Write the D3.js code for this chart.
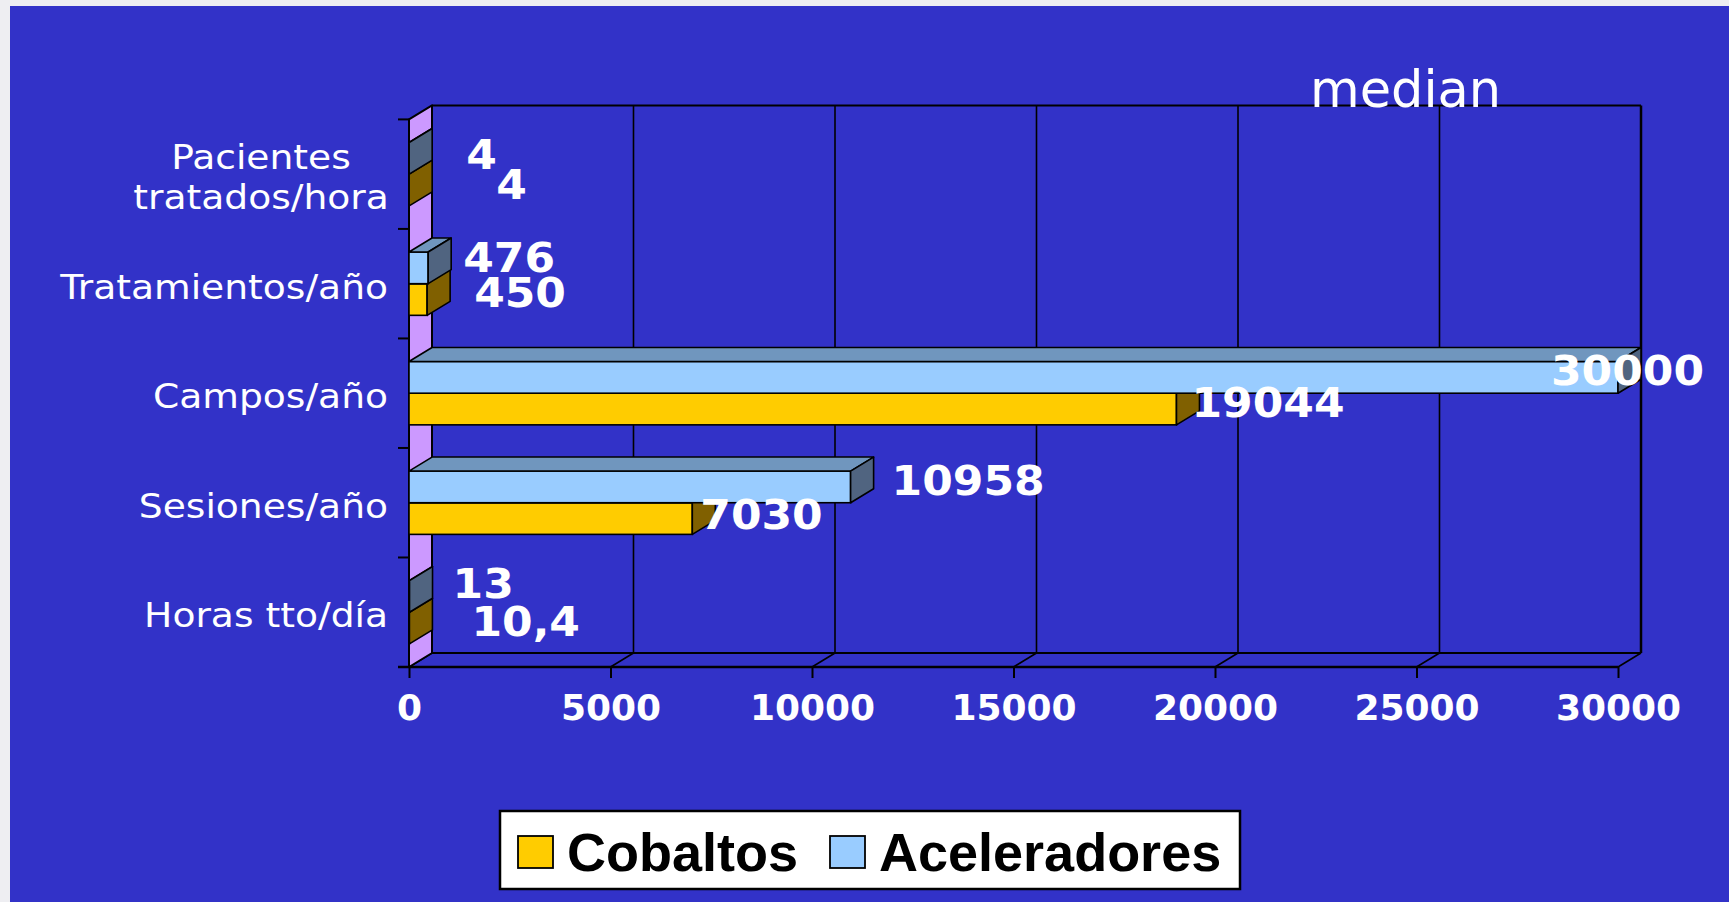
<!DOCTYPE html>
<html>
<head>
<meta charset="utf-8">
<script src="https://cdn.jsdelivr.net/npm/d3@7"></script>
<style>
  html, body { margin: 0; padding: 0; background: #eeeef2; overflow: hidden; }
  svg { display: block; }
</style>
</head>
<body>
<svg id="chart" width="1729" height="902"></svg>
<script>
// ---------------- DATA ----------------
const categories = ["Horas tto/día", "Sesiones/año", "Campos/año", "Tratamientos/año", "Pacientes tratados/hora"];
const seriesNames = ["Cobaltos", "Aceleradores"];
const cobaltos = [10.4, 7030, 19044, 450, 4];
const aceleradores = [13, 10958, 30000, 476, 4];
const xTickValues = [0, 5000, 10000, 15000, 20000, 25000, 30000];
const annotation = "median";

// ---------------- LAYOUT / STYLE ----------------
const W = 1729, H = 902;
const X0 = 409, X1 = 1618, YT = 119.4, YB = 667;
const DX = 23, DY = -14;
const blue = "#3232C8";
const colors = {
  Cobaltos: { front: "#FFCC00", top: "#C09A00", side: "#806000" },
  Aceleradores: { front: "#99CCFF", top: "#7096BE", side: "#506480" }
};
// manual label nudges (px), per category in the order of `categories`
const labelNudgeX = { Cobaltos: [24, -30, -23, 9, 49], Aceleradores: [5, 3, -105, -3, 19] };
const labelNudgeY = { Cobaltos: [0, 2, 0, -1, 1], Aceleradores: [-6.5, 0, 0, -3.5, 2.5] };

const svg = d3.select("#chart");
const fmt = d3.formatLocale({ decimal: ",", thousands: "", grouping: [3], currency: ["", ""] }).format("~g");

// background
svg.append("rect").attr("x", 10).attr("y", 6).attr("width", W - 10).attr("height", H - 6).attr("fill", blue);

const x = d3.scaleLinear().domain([0, 30000]).range([X0, X1]);
const y = d3.scaleBand().domain(categories.slice().reverse()).range([YT, YB]).paddingInner(0).paddingOuter(0);
const sub = d3.scaleBand().domain(["Aceleradores", "Cobaltos"]).range([0, y.bandwidth()]).paddingInner(0).paddingOuter(0.73);

const g = svg.append("g");
const stroke = "#000";

// back wall gridlines
const backTop = YT + DY, backBot = YB + DY;
g.append("line").attr("x1", X0 + DX).attr("x2", X1 + DX).attr("y1", backTop).attr("y2", backTop)
  .attr("stroke", stroke).attr("stroke-width", 2);
g.append("line").attr("x1", X0 + DX).attr("x2", X1 + DX).attr("y1", backBot).attr("y2", backBot)
  .attr("stroke", stroke).attr("stroke-width", 2);
g.selectAll(".vgrid").data(xTickValues.slice(1)).join("line")
  .attr("x1", d => x(d) + DX).attr("x2", d => x(d) + DX)
  .attr("y1", backTop).attr("y2", backBot)
  .attr("stroke", stroke).attr("stroke-width", d => d === 30000 ? 2.5 : 1.6);
// floor diagonals
g.selectAll(".fdiag").data(xTickValues).join("line")
  .attr("x1", d => x(d)).attr("x2", d => x(d) + DX)
  .attr("y1", YB).attr("y2", backBot)
  .attr("stroke", stroke).attr("stroke-width", 1.6);

// left wall (purple)
g.append("polygon")
  .attr("points", [[X0, YT], [X0 + DX, backTop], [X0 + DX, backBot], [X0, YB]].map(p => p.join(",")).join(" "))
  .attr("fill", "#CC99FF").attr("stroke", stroke).attr("stroke-width", 2).attr("stroke-linejoin", "round");

// left axis boundary ticks
const bounds = y.domain().map(c => y(c)).concat([YB]);
g.selectAll(".ltick").data(bounds).join("line")
  .attr("x1", X0 - 11).attr("x2", X0).attr("y1", d => d).attr("y2", d => d)
  .attr("stroke", stroke).attr("stroke-width", 2);

// bottom axis (d3 axis, restyled)
const axisG = g.append("g").attr("transform", `translate(0,${YB})`)
  .call(d3.axisBottom(x).tickValues(xTickValues).tickSize(11).tickSizeOuter(0).tickFormat(d3.format("d")));
axisG.select(".domain").attr("d", `M${X0 - 11},0H${X1}`).attr("stroke", stroke).attr("stroke-width", 2.5);
axisG.selectAll(".tick line").attr("stroke", stroke).attr("stroke-width", 2);
axisG.selectAll(".tick text")
  .attr("y", 53).attr("dy", 0)
  .attr("fill", "#fff").attr("font-family", "'DejaVu Sans', Verdana, sans-serif")
  .attr("font-weight", "bold").attr("font-size", 36);

// bars
function drawBar(parent, val, yTop, h, col) {
  const xe = x(val);
  parent.append("rect").attr("x", X0).attr("y", yTop).attr("width", Math.max(0, xe - X0)).attr("height", h)
    .attr("fill", col.front).attr("stroke", stroke).attr("stroke-width", 1.6);
  parent.append("polygon")
    .attr("points", [[X0, yTop], [xe, yTop], [xe + DX, yTop + DY], [X0 + DX, yTop + DY]].map(p => p.join(",")).join(" "))
    .attr("fill", col.top).attr("stroke", stroke).attr("stroke-width", 1.6).attr("stroke-linejoin", "round");
  parent.append("polygon")
    .attr("points", [[xe, yTop], [xe, yTop + h], [xe + DX, yTop + h + DY], [xe + DX, yTop + DY]].map(p => p.join(",")).join(" "))
    .attr("fill", col.side).attr("stroke", stroke).attr("stroke-width", 1.6).attr("stroke-linejoin", "round");
}

const barsG = svg.append("g");
const seriesData = { Cobaltos: cobaltos, Aceleradores: aceleradores };
categories.forEach((cat, i) => {
  ["Cobaltos", "Aceleradores"].forEach(s => {
    drawBar(barsG, seriesData[s][i], y(cat) + sub(s), sub.bandwidth(), colors[s]);
  });
});

// value labels
const labG = svg.append("g");
categories.forEach((cat, i) => {
  seriesNames.forEach(s => {
    const v = seriesData[s][i];
    const cy = y(cat) + sub(s) + sub.bandwidth() / 2 - 6.5 + labelNudgeY[s][i];
    const lx = x(v) + DX + 15 + labelNudgeX[s][i];
    labG.append("text")
      .attr("transform", `translate(${lx},${cy + 14.6}) scale(1.1,1)`)
      .attr("fill", "#fff").attr("font-family", "'DejaVu Sans', Verdana, sans-serif")
      .attr("font-weight", "bold").attr("font-size", 40)
      .text(fmt(v));
  });
});

// category labels
const catG = svg.append("g");
categories.forEach(cat => {
  const cy = y(cat) + y.bandwidth() / 2;
  const parts = cat === "Pacientes tratados/hora" ? ["Pacientes", "tratados/hora"] : [cat];
  if (parts.length === 1) {
    catG.append("text")
      .attr("transform", `translate(388,${cy + 15}) scale(1.14,1)`)
      .attr("text-anchor", "end")
      .attr("fill", "#fff").attr("font-family", "'DejaVu Sans', Verdana, sans-serif").attr("font-size", 33)
      .text(cat);
  } else {
    // two centered lines, block right-aligned to the axis
    const cx = 261;
    parts.forEach((p, k) => {
      catG.append("text")
        .attr("transform", `translate(${cx},${cy + 15 + (k === 0 ? -20 : 20)}) scale(1.14,1)`)
        .attr("text-anchor", "middle")
        .attr("fill", "#fff").attr("font-family", "'DejaVu Sans', Verdana, sans-serif").attr("font-size", 33)
        .text(p);
    });
  }
});

// annotation
svg.append("text").attr("x", 1310).attr("y", 106.5)
  .attr("fill", "#fff").attr("font-family", "'DejaVu Sans', Verdana, sans-serif").attr("font-size", 51)
  .text(annotation);

// legend
const leg = svg.append("g");
leg.append("rect").attr("x", 500).attr("y", 811).attr("width", 740).attr("height", 78)
  .attr("fill", "#fff").attr("stroke", "#000").attr("stroke-width", 2.5);
const legX = { Cobaltos: 518, Aceleradores: 830 };
seriesNames.forEach(s => {
  leg.append("rect").attr("x", legX[s]).attr("y", 836).attr("width", 35).attr("height", 32)
    .attr("fill", colors[s].front).attr("stroke", "#000").attr("stroke-width", 1.8);
  leg.append("text").attr("transform", `translate(${legX[s] + 49},871)`)
    .attr("fill", "#000").attr("font-family", "'Liberation Sans', Arial, sans-serif")
    .attr("font-weight", "bold").attr("font-size", 54)
    .text(s);
});
</script>
</body>
</html>
